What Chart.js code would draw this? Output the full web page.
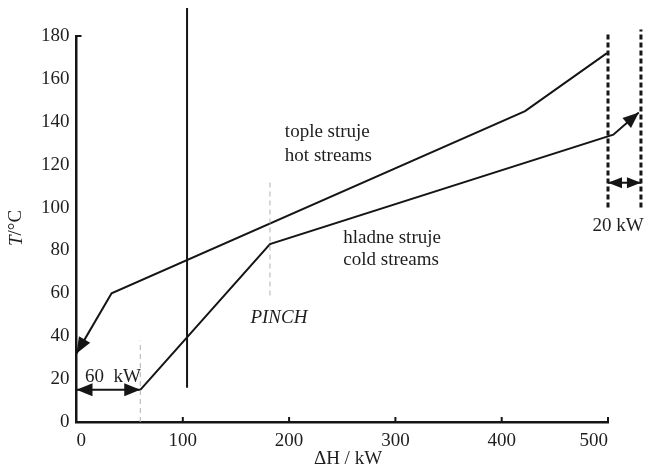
<!DOCTYPE html>
<html><head><meta charset="utf-8">
<script src="https://cdn.jsdelivr.net/npm/chart.js@4.4.1/dist/chart.umd.min.js"></script>
<style>html,body{margin:0;padding:0;background:#fff}#wrap{width:645px;height:470px}</style>
</head><body><div id="wrap"><canvas id="c" width="645" height="470"></canvas></div>
<script>
// ---- data ----
const xTickValues = [0, 100, 200, 300, 400, 500];
const yTickValues = [0, 20, 40, 60, 80, 100, 120, 140, 160, 180];

const hotH  = [0, 33, 422, 499];
const hotT  = [32, 60, 145, 172];
const coldH = [60, 182, 505, 529];
const coldT = [15, 83, 134, 144.3];

const barH = [104, 104];         // solid vertical line
const barT = [16, 193];
const gap60H = [0, 60];          // 60 kW arrow
const gap60T = [15, 15];
const gap20H = [500, 531];       // 20 kW arrow
const gap20T = [111.6, 111.6];
const dotAH = [500, 500];
const dotAT = [100, 182];
const dotBH = [531, 531];
const dotBT = [100, 183];
const pinchH = [182, 182];
const pinchT = [59, 112];
const mark60H = [60, 60];
const mark60T = [0, 38];

const notes = [
  {text: 'tople struje', h: 196, t: 135},
  {text: 'hot streams',  h: 196, t: 124},
  {text: 'hladne struje', h: 251, t: 86},
  {text: 'cold streams',  h: 251, t: 75.7},
  {text: 'PINCH', h: 163.6, t: 48.5, italic: true},
  {text: '60  kW', h: 8, t: 21.2},
  {text: '20 kW', h: 485.4, t: 91.2}
];

const FONT = "'Liberation Serif', 'Times New Roman', serif";
const INK = '#151515';
const TXT = '#1e1e1e';

const pts = (xs, ys) => xs.map((x, i) => ({x, y: ys[i]}));

function ds(xs, ys, extra) {
  return Object.assign({
    data: pts(xs, ys), showLine: true, borderColor: INK, borderWidth: 2,
    pointRadius: 0, fill: false, clip: false, tension: 0
  }, extra || {});
}

const arrowPlugin = {
  id: 'arrows',
  afterDatasetsDraw(chart) {
    const ctx = chart.ctx;
    chart.data.datasets.forEach((d, i) => {
      if (!d.arrows) return;
      const el = chart.getDatasetMeta(i).data;
      const L = d.arrows.len || 16, W = d.arrows.half || 6.5;
      const draw = (tip, from) => {
        const a = Math.atan2(tip.y - from.y, tip.x - from.x);
        ctx.save();
        ctx.translate(tip.x, tip.y);
        ctx.rotate(a);
        ctx.beginPath();
        ctx.moveTo(0, 0);
        ctx.lineTo(-L, -W);
        ctx.lineTo(-L, W);
        ctx.closePath();
        ctx.fillStyle = INK;
        ctx.fill();
        ctx.restore();
      };
      if (d.arrows.start) draw(el[0], el[1]);
      if (d.arrows.end) draw(el[el.length - 1], el[el.length - 2]);
    });
  }
};

const textPlugin = {
  id: 'texts',
  afterDraw(chart) {
    const ctx = chart.ctx, xs = chart.scales.x, ys = chart.scales.y;
    ctx.save();
    ctx.fillStyle = TXT;
    ctx.textBaseline = 'middle';
    ctx.textAlign = 'left';
    notes.forEach(n => {
      ctx.font = (n.italic ? 'italic ' : '') + '19px ' + FONT;
      ctx.fillText(n.text, xs.getPixelForValue(n.h), ys.getPixelForValue(n.t));
    });
    // inner tick marks
    ctx.strokeStyle = INK;
    ctx.lineWidth = 2;
    const y0 = ys.getPixelForValue(0);
    xTickValues.forEach(v => {
      if (v === 0) return;
      const px = xs.getPixelForValue(v);
      ctx.beginPath(); ctx.moveTo(px, y0); ctx.lineTo(px, y0 - 5); ctx.stroke();
    });
    const x0 = xs.getPixelForValue(0);
    const ytop = ys.getPixelForValue(yTickValues[yTickValues.length - 1]);
    ctx.beginPath(); ctx.moveTo(x0, ytop); ctx.lineTo(x0 + 5, ytop); ctx.stroke();
    // x title
    ctx.font = '19px ' + FONT;
    ctx.textAlign = 'center';
    ctx.fillText('\u0394H / kW', 348, 459);
    // y title (rotated, italic T)
    ctx.translate(16.5, 228);
    ctx.rotate(-Math.PI / 2);
    ctx.font = 'italic 19px ' + FONT;
    const wT = ctx.measureText('T').width;
    ctx.font = '19px ' + FONT;
    const wR = ctx.measureText('/\u00B0C').width;
    const start = -(wT + wR) / 2;
    ctx.textAlign = 'left';
    ctx.font = 'italic 19px ' + FONT;
    ctx.fillText('T', start, 0);
    ctx.font = '19px ' + FONT;
    ctx.fillText('/\u00B0C', start + wT, 0);
    ctx.restore();
  }
};

new Chart(document.getElementById('c'), {
  type: 'scatter',
  data: {
    datasets: [
      ds(mark60H, mark60T, {borderColor: '#b0b0b0', borderWidth: 1, borderDash: [5, 4]}),
      ds(pinchH, pinchT, {borderColor: '#b0b0b0', borderWidth: 1, borderDash: [5, 4]}),
      ds(hotH, hotT, {arrows: {start: true}}),
      ds(coldH, coldT, {arrows: {end: true}}),
      ds(barH, barT),
      ds(gap60H, gap60T, {arrows: {start: true, end: true}}),
      ds(gap20H, gap20T, {arrows: {start: true, end: true, len: 14, half: 5.5}}),
      ds(dotAH, dotAT, {borderWidth: 3, borderDash: [5, 3]}),
      ds(dotBH, dotBT, {borderWidth: 3, borderDash: [5, 3]})
    ]
  },
  options: {
    responsive: false,
    devicePixelRatio: 1,
    animation: false,
    events: [],
    layout: {padding: {top: 36, right: 37, left: 0, bottom: 0}},
    plugins: {legend: {display: false}, tooltip: {enabled: false}},
    scales: {
      x: {
        type: 'linear',
        afterDataLimits: s => { s.min = xTickValues[0]; s.max = xTickValues[xTickValues.length - 1]; },
        afterBuildTicks: s => { s.ticks = xTickValues.map(v => ({value: v})); },
        afterFit: s => { s.height = 48; },
        grid: {display: true, drawOnChartArea: false, drawTicks: false},
        border: {display: true, color: INK, width: 2.5},
        ticks: {color: TXT, font: {family: FONT, size: 19}, padding: 8, maxRotation: 0, align: 'inner'}
      },
      y: {
        type: 'linear', min: 0, max: 180,
        afterBuildTicks: s => { s.ticks = yTickValues.map(v => ({value: v})); },
        afterFit: s => { s.width = 76.5; },
        grid: {display: true, drawOnChartArea: false, drawTicks: false},
        border: {display: true, color: INK, width: 2.5},
        ticks: {color: TXT, font: {family: FONT, size: 19}, padding: 7}
      }
    }
  },
  plugins: [arrowPlugin, textPlugin]
});
</script></body></html>
